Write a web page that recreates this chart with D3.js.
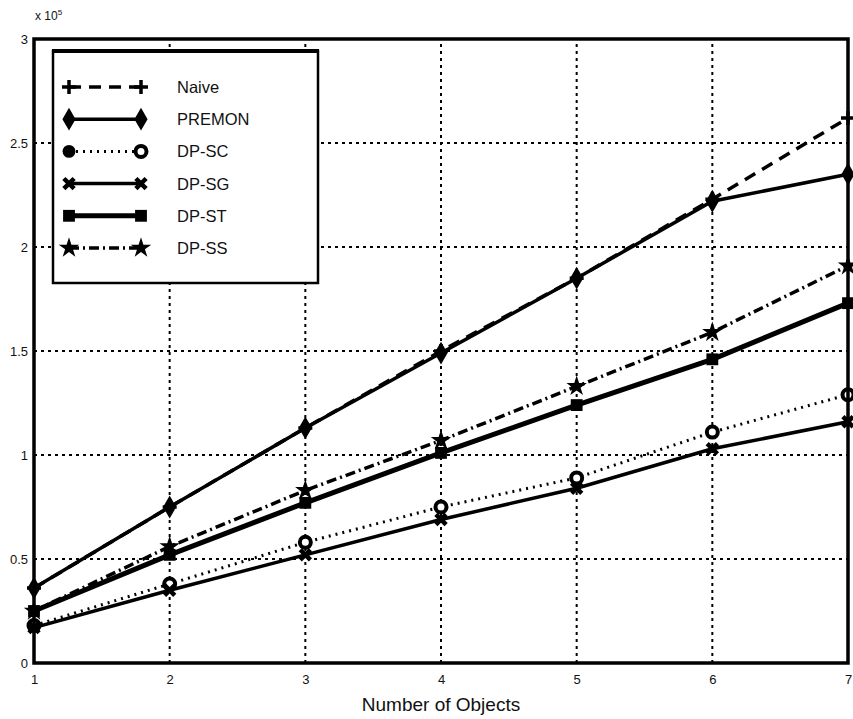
<!DOCTYPE html>
<html>
<head>
<meta charset="utf-8">
<script src="https://cdn.jsdelivr.net/npm/d3@7.9.0/dist/d3.min.js"></script>
<style>
  body { margin: 0; background: #fff; }
  text { font-family: "Liberation Sans", Arial, sans-serif; fill: #111; }
</style>
</head>
<body>
<svg id="chart" width="853" height="719"></svg>
<script>
const objects = [1, 2, 3, 4, 5, 6, 7];
const yTicks = [0, 0.5, 1, 1.5, 2, 2.5, 3];

const naive  = [0.36, 0.75, 1.13, 1.50, 1.85, 2.23, 2.62];
const premon = [0.36, 0.75, 1.13, 1.49, 1.85, 2.22, 2.35];
const dpSC   = [0.18, 0.38, 0.58, 0.75, 0.89, 1.11, 1.29];
const dpSG   = [0.17, 0.35, 0.52, 0.69, 0.84, 1.03, 1.16];
const dpST   = [0.25, 0.52, 0.77, 1.01, 1.24, 1.46, 1.73];
const dpSS   = [0.25, 0.56, 0.83, 1.07, 1.33, 1.59, 1.91];

const series = [
  { name: 'Naive',  values: naive,  width: 3.5, dash: '12,8',       marker: 'plus' },
  { name: 'PREMON', values: premon, width: 3.5, dash: null,         marker: 'diamond' },
  { name: 'DP-SC',  values: dpSC,   width: 3,   dash: '2,5',        marker: 'circle' },
  { name: 'DP-SG',  values: dpSG,   width: 3.5, dash: null,         marker: 'cross' },
  { name: 'DP-ST',  values: dpST,   width: 5,   dash: null,         marker: 'square' },
  { name: 'DP-SS',  values: dpSS,   width: 3.5, dash: '10,4,2,4',   marker: 'star' }
];

const svg = d3.select('#chart');
const x = d3.scaleLinear().domain([1, 7]).range([34, 848]);
const y = d3.scaleLinear().domain([0, 3]).range([663, 39]);

// grid
const grid = svg.append('g');
objects.slice(1, -1).forEach(v => {
  grid.append('line').attr('x1', x(v)).attr('x2', x(v)).attr('y1', y(0)).attr('y2', y(3))
    .attr('stroke', '#000').attr('stroke-width', 2).attr('stroke-dasharray', '3,4');
});
yTicks.slice(1, -1).forEach(v => {
  grid.append('line').attr('x1', x(1)).attr('x2', x(7)).attr('y1', y(v)).attr('y2', y(v))
    .attr('stroke', '#000').attr('stroke-width', 2).attr('stroke-dasharray', '3,4');
});

// axes
const xAxis = d3.axisBottom(x).tickValues(objects).tickSize(0).tickPadding(12).tickFormat(d3.format('d'));
const gx = svg.append('g').attr('transform', `translate(0,${y(0)})`).call(xAxis);
gx.select('.domain').remove();
gx.selectAll('text').attr('font-size', 13);

const yAxis = d3.axisLeft(y).tickValues(yTicks).tickSize(0).tickPadding(6).tickFormat(d => d);
const gy = svg.append('g').attr('transform', `translate(${x(1)},0)`).call(yAxis);
gy.select('.domain').remove();
gy.selectAll('text').attr('font-size', 13);

// series
const line = d3.line().x((d, i) => x(objects[i])).y(d => y(d));
const symbols = {
  diamond: d3.symbolDiamond, dot: d3.symbolCircle,
  square: d3.symbolSquare, star: d3.symbolStar
};

function drawMarker(g, kind, cx, cy) {
  if (kind === 'plus') {
    g.append('path').attr('d', `M${cx - 7},${cy}H${cx + 7}M${cx},${cy - 7}V${cy + 7}`)
      .attr('stroke', '#000').attr('stroke-width', 3.5);
  } else if (kind === 'circle') {
    g.append('circle').attr('cx', cx).attr('cy', cy).attr('r', 5.5)
      .attr('fill', '#fff').attr('stroke', '#000').attr('stroke-width', 4);
  } else if (kind === 'cross') {
    g.append('path').attr('d', d3.symbol().type(d3.symbolX).size(70)())
      .attr('transform', `translate(${cx},${cy})`).attr('fill', 'none')
      .attr('stroke', '#000').attr('stroke-width', 4.5);
  } else {
    const size = kind === 'diamond' ? 150 : kind === 'star' ? 130 : kind === 'dot' ? 130 : 140;
    g.append('path').attr('d', d3.symbol().type(symbols[kind]).size(size)())
      .attr('transform', `translate(${cx},${cy})`).attr('fill', '#000');
  }
}

series.forEach(s => {
  const g = svg.append('g');
  g.append('path').datum(s.values).attr('d', line).attr('fill', 'none')
    .attr('stroke', '#000').attr('stroke-width', s.width)
    .attr('stroke-dasharray', s.dash);
  s.values.forEach((v, i) => drawMarker(g, s.marker, x(objects[i]), y(v)));
});

// frame
svg.append('rect').attr('x', x(1)).attr('y', y(3)).attr('width', x(7) - x(1)).attr('height', y(0) - y(3))
  .attr('fill', 'none').attr('stroke', '#000').attr('stroke-width', 3.5);

// legend
const lg = svg.append('g');
lg.append('rect').attr('x', 53).attr('y', 51).attr('width', 265).attr('height', 232)
  .attr('fill', '#fff').attr('stroke', '#000').attr('stroke-width', 2.5);
lg.append('line').attr('x1', 52).attr('x2', 319).attr('y1', 51).attr('y2', 51)
  .attr('stroke', '#000').attr('stroke-width', 4);
series.forEach((s, i) => {
  const ly = 87 + i * 32.2;
  lg.append('line').attr('x1', 69).attr('x2', 141).attr('y1', ly).attr('y2', ly)
    .attr('stroke', '#000').attr('stroke-width', s.width).attr('stroke-dasharray', s.dash);
  drawMarker(lg, s.marker === 'circle' ? 'dot' : s.marker, 69, ly);
  drawMarker(lg, s.marker, 141, ly);
  lg.append('text').attr('x', 177).attr('y', ly + 6).attr('font-size', 16.5).text(s.name);
});

// labels
svg.append('text').attr('x', 441).attr('y', 711).attr('text-anchor', 'middle')
  .attr('font-size', 19).text('Number of Objects');
const ex = svg.append('text').attr('x', 35).attr('y', 20).attr('font-size', 12);
ex.append('tspan').text('x 10');
ex.append('tspan').attr('dy', -5).attr('font-size', 8).text('5');
</script>
</body>
</html>
